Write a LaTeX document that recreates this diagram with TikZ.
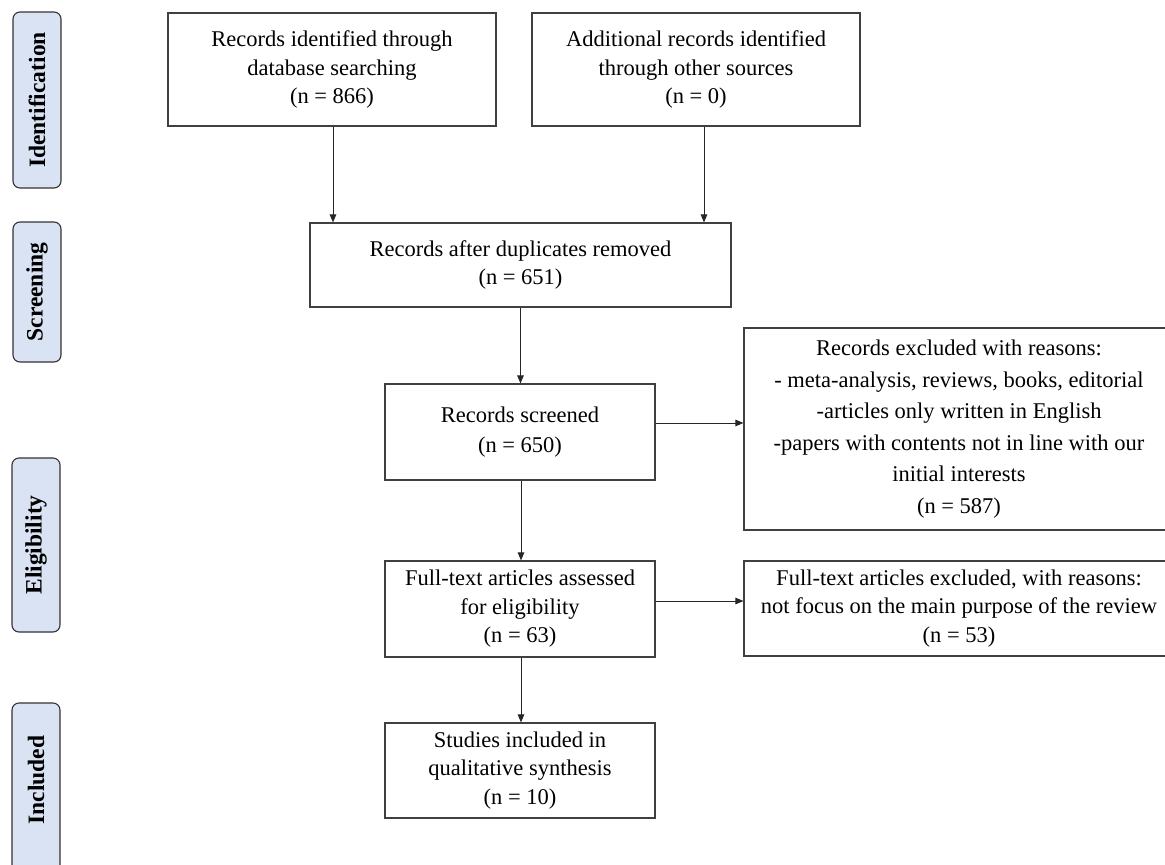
\documentclass[tikz,border=0pt]{standalone}
\usepackage{fontspec}
\setmainfont{Liberation Serif}
\usetikzlibrary{arrows.meta}
\definecolor{lblfill}{HTML}{DAE3F3}
\begin{document}
\begin{tikzpicture}[x=1pt,y=-1pt,
  box/.style={draw=black!75, line width=1.1pt, rectangle, align=center, inner sep=0pt, font=\fontsize{22.5}{28.5}\selectfont},
  arr/.style={draw=black!85, line width=1pt, -{Triangle[length=8pt,width=6.5pt]}},
  phase/.style={draw=black!80, line width=1.1pt, rounded corners=7pt, fill=lblfill, inner sep=0pt, minimum width=48pt},
  phasetext/.style={rotate=90, inner sep=0pt, font=\fontsize{23.5}{27}\selectfont\bfseries}
]
\useasboundingbox (0,0) rectangle (1165,865);
\clip (0,0) rectangle (1165,865);

% phase labels
\node[phase, minimum height=176pt] (p1) at (37,100) {};
\node[phasetext] (p1t) at (p1.center) {Identification};
\node[phase, minimum height=140pt] (p2) at (37,292) {};
\node[phasetext] (p2t) at (p2.center) {Screening};
\node[phase, minimum height=174pt] (p3) at (36,545) {};
\node[phasetext] (p3t) at (p3.center) {Eligibility};
\node[phase, minimum height=180pt] (p4) at (36,793) {};
\node[phasetext] (p4t) at (36,780) {Included};

% boxes
\node[box, minimum width=328pt, minimum height=113pt] (A) at (332,69.5)
  {Records identified through\\database searching\\(n = 866)};
\node[box, minimum width=328pt, minimum height=113pt] (B) at (696,69.5)
  {Additional records identified\\through other sources\\(n = 0)};
\node[box, minimum width=421pt, minimum height=84pt] (C) at (520.5,265)
  {Records after duplicates removed\\(n = 651)};
\node[box, minimum width=270pt, minimum height=96pt, font=\fontsize{22.5}{30}\selectfont] (D) at (520,432)
  {Records screened\\(n = 650)};
\node[box, minimum width=430pt, minimum height=202pt, font=\fontsize{22.5}{31.5}\selectfont] (E) at (959,429)
  {Records excluded with reasons:\\- meta-analysis, reviews, books, editorial\\-articles only written in English\\-papers with contents not in line with our\\initial interests\\(n = 587)};
\node[box, minimum width=270pt, minimum height=96pt] (G) at (520,609)
  {Full-text articles assessed\\for eligibility\\(n = 63)};
\node[box, minimum width=430pt, minimum height=95pt] (F) at (959,608.5)
  {Full-text articles excluded, with reasons:\\not focus on the main purpose of the review\\(n = 53)};
\node[box, minimum width=270pt, minimum height=95pt] (H) at (520,770.5)
  {Studies included in\\qualitative synthesis\\(n = 10)};

% connectors
\draw[arr] ([xshift=1pt]A.south) -- ([xshift=1pt]A.south |- C.north);
\draw[arr] ([xshift=8pt]B.south) -- ([xshift=8pt]B.south |- C.north);
\draw[arr] (C.south) -- (C.south |- D.north);
\draw[arr] ([yshift=9pt]D.east) -- ([yshift=9pt]D.east -| E.west);
\draw[arr] ([xshift=1pt]D.south) -- ([xshift=1pt]D.south |- G.north);
\draw[arr] ([yshift=8pt]G.east) -- ([yshift=8pt]G.east -| F.west);
\draw[arr] ([xshift=1pt]G.south) -- ([xshift=1pt]G.south |- H.north);
\end{tikzpicture}
\end{document}
